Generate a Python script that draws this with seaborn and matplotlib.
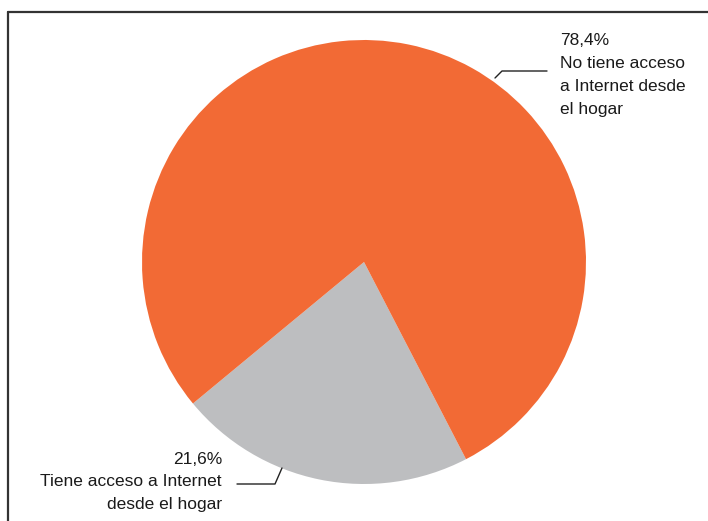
import numpy as np
import matplotlib
matplotlib.use("Agg")
import matplotlib.pyplot as plt
from matplotlib.lines import Line2D
import seaborn as sns

# data
categories = ["Tiene acceso a Internet\ndesde el hogar", "No tiene acceso\na Internet desde\nel hogar"]
shares = [21.6, 78.4]
colors = ["#bdbec0", "#f26a35"]

sns.set_theme(style="white")
plt.rcParams['font.family'] = ['Liberation Sans Narrow', 'Liberation Sans', 'DejaVu Sans']

W, H = 708, 521
fig = plt.figure(figsize=(W / 100, H / 100), dpi=100)
fig.patch.set_facecolor('white')

# pie centre / radius in pixels
cx, cy, r = 364, 262, 222
ax = fig.add_axes([(cx - r) / W, (H - cy - r) / H, 2 * r / W, 2 * r / H])
ax.pie(shares, colors=colors, startangle=219.6, counterclock=True,
       radius=1, wedgeprops=dict(linewidth=0))
ax.set_xlim(-1, 1)
ax.set_ylim(-1, 1)
ax.set_aspect('equal')
ax.axis('off')

def px(x, y):
    return (x - cx) / r, (cy - y) / r

def fmt(v):
    return f"{v:.1f}".replace('.', ',') + "%"

# leader lines
for pts in ([(495, 78), (502, 71), (547, 71)], [(282, 468), (275, 484), (237, 484)]):
    xs, ys = zip(*[px(*p) for p in pts])
    ax.plot(xs, ys, color='#222222', lw=1.0, clip_on=False)

tx, ty = px(560, 75)
ax.text(tx, ty, fmt(shares[1]) + "\n" + categories[1], ha='left', va='center',
        fontsize=12.5, color='#1a1a1a', linespacing=1.65, clip_on=False)
tx, ty = px(222, 482)
ax.text(tx, ty, fmt(shares[0]) + "\n" + categories[0], ha='right', va='center',
        fontsize=12.5, color='#1a1a1a', linespacing=1.65, multialignment='right', clip_on=False)

# frame (top and left only)
fig.add_artist(Line2D([8 / W, 1], [1 - 12 / H, 1 - 12 / H], color='#333333', lw=1.6))
fig.add_artist(Line2D([8 / W, 8 / W], [0, 1 - 12 / H], color='#333333', lw=1.6))

fig.savefig("out.png", dpi=100)
